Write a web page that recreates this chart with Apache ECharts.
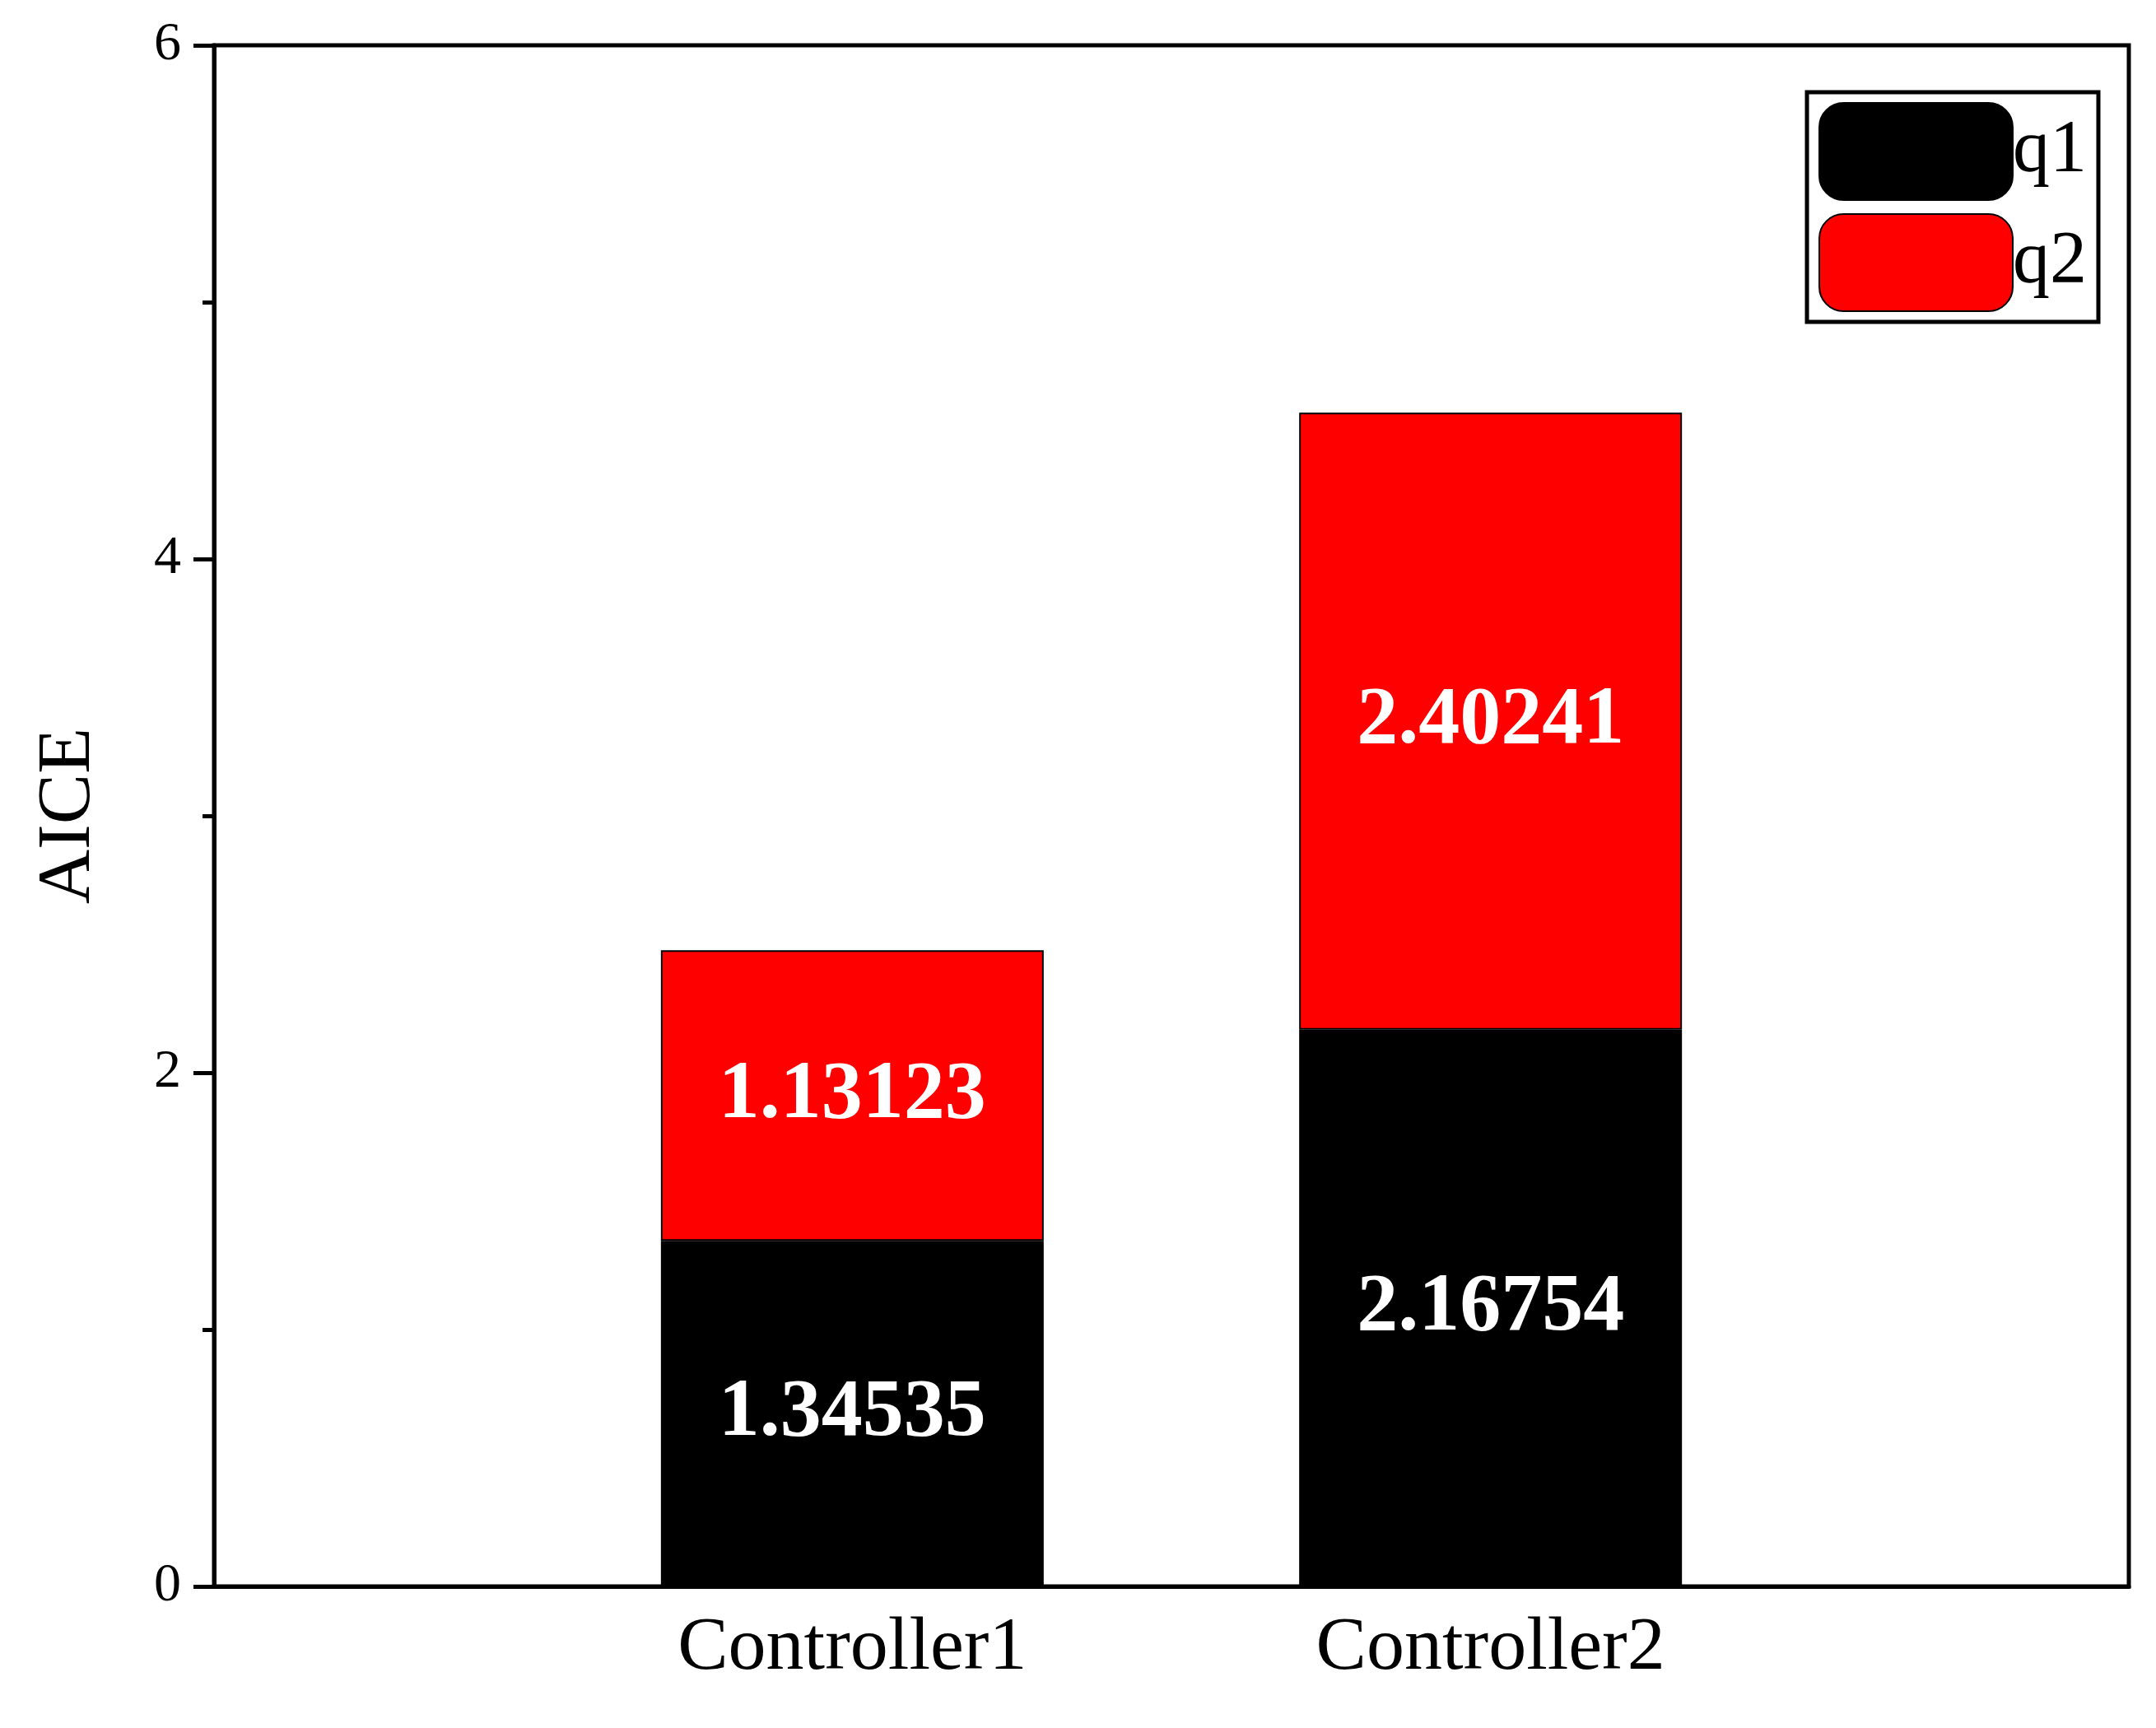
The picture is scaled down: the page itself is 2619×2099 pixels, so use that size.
<!DOCTYPE html><html><head><meta charset="utf-8">
<script src="https://cdn.jsdelivr.net/npm/echarts@6/dist/echarts.min.js"></script>
<style>html,body{margin:0;background:#fff}#c{width:2619px;height:2099px}</style></head><body><div id="c"></div>
<script>
const categories=['','Controller1','Controller2',''];
const q1=[null,1.34535,2.16754,null];
const q2=[null,1.13123,2.40241,null];
const yTicks=[0,2,4,6];
const F='Liberation Serif';
const chart=echarts.init(document.getElementById('c'));
const lab={show:true,position:'inside',color:'#fff',fontFamily:F,fontWeight:'bold',fontSize:100,formatter:p=>p.value.toFixed(5)};
chart.setOption({
 animation:false,
 grid:{left:260,right:33,top:55,bottom:172,show:true,borderColor:'#000',borderWidth:5,backgroundColor:'transparent'},
 legend:{right:70,top:112,orient:'vertical',itemWidth:235,itemHeight:118,itemGap:15,padding:[12,14,12,14],borderColor:'#000',borderWidth:5,
  textStyle:{fontFamily:F,fontSize:90,color:'#000',padding:[0,0,0,-5]},data:['q1','q2']},
 xAxis:{type:'category',data:categories,boundaryGap:false,axisLine:{lineStyle:{color:'#000',width:5}},axisTick:{show:false},
  axisLabel:{fontFamily:F,fontSize:92,color:'#000',margin:30,interval:0},splitLine:{show:false}},
 yAxis:{type:'value',name:'AICE',nameLocation:'middle',nameGap:130,nameTextStyle:{fontFamily:F,fontSize:92,color:'#000'},
  min:yTicks[0],max:yTicks[yTicks.length-1],interval:2,
  axisLine:{show:true,lineStyle:{color:'#000',width:5}},axisTick:{show:true,length:25,lineStyle:{width:5,color:'#000'}},
  minorTick:{show:true,splitNumber:2,length:14,lineStyle:{width:5,color:'#000'}},
  axisLabel:{fontFamily:F,fontSize:66,color:'#000',margin:40},splitLine:{show:false}},
 series:[
  {name:'q1',type:'bar',stack:'s',data:q1,barWidth:465,itemStyle:{color:'#000',borderColor:'#000',borderWidth:2},label:lab},
  {name:'q2',type:'bar',stack:'s',data:q2,barWidth:465,itemStyle:{color:'#ff0000',borderColor:'#000',borderWidth:2},label:lab}
 ]
});
</script></body></html>
